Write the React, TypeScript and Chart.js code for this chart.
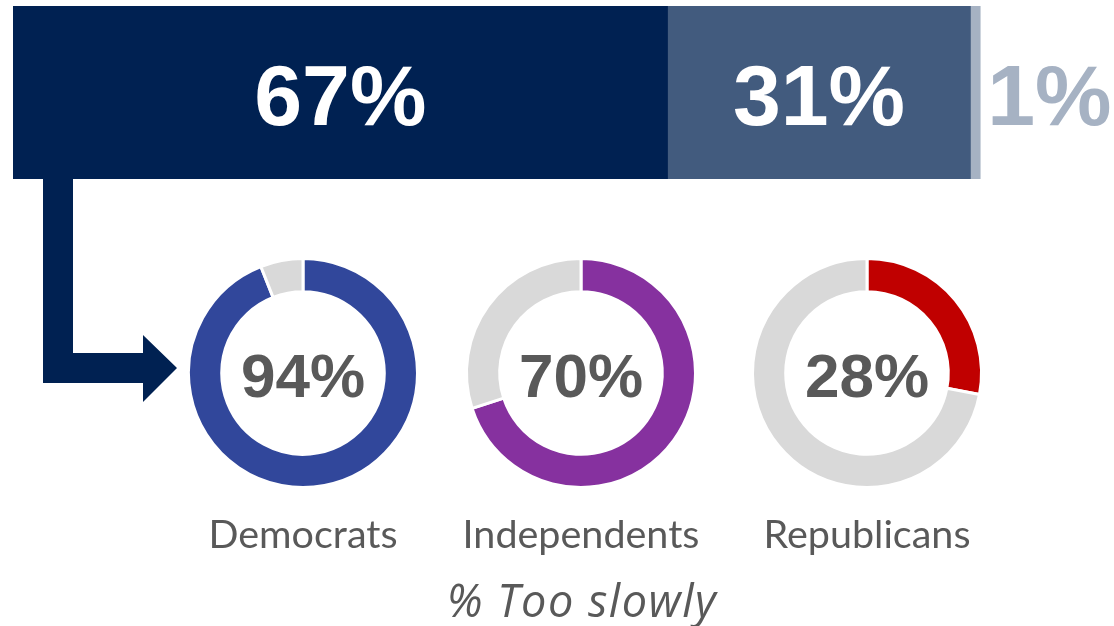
import React, { useEffect, useRef } from "react";
import { Chart, registerables } from "chart.js";

Chart.register(...registerables);

// ---- data ----
const barSegmentNames = ["Too slowly", "About right / too quickly", "No answer"];
const barValues = [67, 31, 1];
const barColors = ["#002152", "#425B7E", "#A6B2C3"];

const parties = ["Democrats", "Independents", "Republicans"];
const partyValues = [94, 70, 28];
const partyColors = ["#31479B", "#86319F", "#C00000"];
const restColor = "#D9D9D9";
const footnote = "% Too slowly";

const textGrey = "#595959";
const navy = "#002152";

function TopBar() {
  const ref = useRef<HTMLCanvasElement>(null);
  useEffect(() => {
    if (!ref.current) return;
    const labelPlugin = {
      id: "segLabels",
      afterDatasetsDraw(chart: any) {
        const ctx = chart.ctx;
        chart.data.datasets.forEach((ds: any, i: number) => {
          const el = chart.getDatasetMeta(i).data[0];
          const { x, y, base } = el.getProps(["x", "y", "base"], true);
          const txt = ds.data[0] + "%";
          ctx.save();
          ctx.font = "bold 86px 'Liberation Sans', Arial, sans-serif";
          ctx.textBaseline = "alphabetic";
          if (i < barValues.length - 1) {
            ctx.fillStyle = "#FFFFFF";
            ctx.textAlign = "center";
            ctx.fillText(txt, (x + base) / 2, y + 32);
          } else {
            ctx.fillStyle = barColors[i];
            ctx.textAlign = "left";
            ctx.fillText(txt, x + 7, y + 32);
          }
          ctx.restore();
        });
      },
    };
    const chart = new Chart(ref.current, {
      type: "bar",
      data: {
        labels: [""],
        datasets: barValues.map((v, i) => ({
          label: barSegmentNames[i],
          data: [v],
          backgroundColor: barColors[i],
          borderWidth: 0,
          barPercentage: 1,
          categoryPercentage: 1,
        })),
      },
      options: {
        indexAxis: "y",
        animation: false,
        responsive: false,
        events: [],
        layout: { padding: { left: 13, right: 124, top: 6, bottom: 6 } },
        plugins: { legend: { display: false }, tooltip: { enabled: false } },
        scales: {
          x: { stacked: true, min: 0, max: 100, display: false },
          y: { stacked: true, display: false },
        },
      },
      plugins: [labelPlugin],
    });
    return () => chart.destroy();
  }, []);
  return (
    <canvas
      ref={ref}
      width={1114}
      height={185}
      style={{ position: "absolute", left: 0, top: 0, width: 1114, height: 185 }}
    />
  );
}

function Donut({ idx, cx, cy }: { idx: number; cx: number; cy: number }) {
  const ref = useRef<HTMLCanvasElement>(null);
  const size = 240;
  useEffect(() => {
    if (!ref.current) return;
    const centerPlugin = {
      id: "centerText",
      afterDatasetsDraw(chart: any) {
        const el = chart.getDatasetMeta(0).data[0];
        const ctx = chart.ctx;
        ctx.save();
        ctx.font = "bold 62px 'Liberation Sans', Arial, sans-serif";
        ctx.fillStyle = textGrey;
        ctx.textAlign = "center";
        ctx.textBaseline = "alphabetic";
        ctx.fillText(partyValues[idx] + "%", el.x, el.y + 24);
        ctx.restore();
      },
    };
    const chart = new Chart(ref.current, {
      type: "doughnut",
      data: {
        labels: [parties[idx], "Other"],
        datasets: [
          {
            data: [partyValues[idx], 100 - partyValues[idx]],
            backgroundColor: [partyColors[idx], restColor],
            borderColor: "#FFFFFF",
            borderWidth: 3,
          },
        ],
      },
      options: {
        animation: false,
        responsive: false,
        events: [],
        cutout: "71%",
        layout: { padding: 4 },
        plugins: { legend: { display: false }, tooltip: { enabled: false } },
      },
      plugins: [centerPlugin],
    });
    return () => chart.destroy();
  }, [idx]);
  return (
    <canvas
      ref={ref}
      width={size}
      height={size}
      style={{ position: "absolute", left: cx - size / 2, top: cy - size / 2, width: size, height: size }}
    />
  );
}

export default function App() {
  const centers = [303, 581, 867];
  const cy = 373;
  return (
    <div style={{ position: "absolute", left: 0, top: 0, width: 1114, height: 626, background: "#fff", overflow: "hidden" }}>
      <TopBar />
      <svg width={1114} height={626} style={{ position: "absolute", left: 0, top: 0 }}>
        <polygon
          points="43,178 73,178 73,353 143,353 143,335 177,368 143,402 143,383 43,383"
          fill={navy}
        />
      </svg>
      {parties.map((p, i) => (
        <Donut key={p} idx={i} cx={centers[i]} cy={cy} />
      ))}
      {parties.map((p, i) => (
        <div
          key={p + "lbl"}
          style={{
            position: "absolute",
            left: centers[i] - 150,
            top: 513,
            width: 300,
            textAlign: "center",
            fontFamily: "Lato, 'Open Sans', sans-serif",
            fontSize: 39.5,
            lineHeight: "40px",
            color: textGrey,
          }}
        >
          {p}
        </div>
      ))}
      <div
        style={{
          position: "absolute",
          left: 582 - 250,
          top: 578,
          width: 500,
          textAlign: "center",
          fontFamily: "'Open Sans', Lato, sans-serif",
          fontStyle: "italic",
          fontSize: 45,
          letterSpacing: "1.5px",
          lineHeight: "44px",
          color: textGrey,
        }}
      >
        {footnote}
      </div>
    </div>
  );
}
